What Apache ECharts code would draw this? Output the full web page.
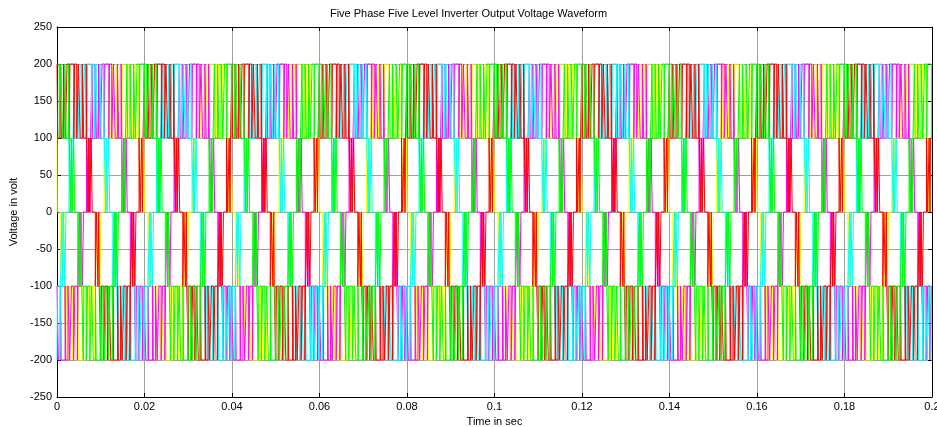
<!DOCTYPE html>
<html lang="en">
<head>
<meta charset="UTF-8">
<title>Five Phase Five Level Inverter Output Voltage Waveform</title>
<script src="https://cdn.jsdelivr.net/npm/echarts@6/dist/echarts.min.js"></script>
<style>
body{margin:0;padding:0;background:#fff}
#main{width:937px;height:427px}
</style>
</head>
<body>
<div id="main"></div>
<script>
// one 20 ms cycle of the reference phase, read off the first cycle of the plot
// [time in ms, level it switches to in V]
var cycleEdges = [
  [0.35,100],[0.6,0],[0.95,100],[1.15,0],[1.25,100],
  [1.6,200],[1.75,100],[2.3,200],[2.6,100],[3.1,200],[3.5,100],[3.9,200],[4.4,100],
  [4.55,200],[5.45,100],[5.6,200],[6.1,100],[6.5,200],[6.9,100],[7.4,200],[7.7,100],
  [8.25,200],[8.4,100],
  [8.75,0],[8.85,100],[9.05,0],[9.4,100],[9.65,0],
  [10.35,-100],[10.6,0],[10.95,-100],[11.15,0],[11.25,-100],
  [11.6,-200],[11.75,-100],[12.3,-200],[12.6,-100],[13.1,-200],[13.5,-100],[13.9,-200],[14.4,-100],
  [14.55,-200],[15.45,-100],[15.6,-200],[16.1,-100],[16.5,-200],[16.9,-100],[17.4,-200],[17.7,-100],
  [18.25,-200],[18.4,-100],
  [18.75,0],[18.85,-100],[19.05,0],[19.4,-100],[19.65,0]
];
var cycleMs = 20;
var cycleCount = 10;

// scope traces, in drawing order
var phaseNames  = ['Phase 1', 'Phase 2', 'Phase 3', 'Phase 4', 'Phase 5'];
var phaseColors = ['#ffff00', '#ff00ff', '#00ffff', '#ff0000', '#00ff00'];
var phaseShift  = [10.4, 6.4, 2.4, -1.6, 14.4];   // ms, from where each trace peaks

var xTicks = ['0','0.02','0.04','0.06','0.08','0.1','0.12','0.14','0.16','0.18','0.2'];
var yTicks = [-250,-200,-150,-100,-50,0,50,100,150,200,250];

function buildTrace(shift) {
  var edges = [];
  for (var k = -1; k <= cycleCount; k++) {
    cycleEdges.forEach(function (e) {
      edges.push([e[0] + shift + k * cycleMs, e[1]]);
    });
  }
  edges.sort(function (a, b) { return a[0] - b[0]; });
  var endMs = cycleMs * cycleCount;
  var level = 0;
  var pts = [];
  edges.forEach(function (e) {
    if (e[0] <= 0) level = e[1];
  });
  pts.push([0, level]);
  edges.forEach(function (e) {
    if (e[0] > 0 && e[0] < endMs) {
      pts.push([e[0] / 1000, level]);
      level = e[1];
      pts.push([e[0] / 1000, level]);
    }
  });
  pts.push([endMs / 1000, level]);
  return pts;
}

var series = [];
for (var i = 0; i < phaseNames.length; i++) {
  series.push({
    name: phaseNames[i],
    type: 'line',
    showSymbol: false,
    symbol: 'none',
    animation: false,
    lineStyle: { color: phaseColors[i], width: 1 },
    data: buildTrace(phaseShift[i])
  });
}

var font = 'Liberation Sans, Arial, sans-serif';
var gridLine = { show: true, lineStyle: { color: '#a0a0a0', width: 1 } };
var boxLine = { show: true, onZero: false, lineStyle: { color: '#000', width: 1 } };

var myChart = echarts.init(document.getElementById('main'), null, { renderer: 'canvas' });
var option = {
  animation: false,
  backgroundColor: '#fff',
  title: {
    text: 'Five Phase Five Level Inverter Output Voltage Waveform',
    left: 'center',
    top: 3,
    textStyle: { fontFamily: font, fontSize: 11, fontWeight: 'normal', color: '#000' }
  },
  grid: { left: 57, right: 5, top: 27, bottom: 30, outerBoundsMode: 'none', containLabel: false },
  xAxis: [{
    type: 'value',
    min: 0, max: 0.2, interval: 0.02,
    name: 'Time in sec',
    nameLocation: 'middle',
    nameGap: 18,
    nameTextStyle: { fontFamily: font, fontSize: 11, color: '#000' },
    axisLine: boxLine,
    axisTick: { show: true, inside: true, length: 4, lineStyle: { color: '#000' } },
    axisLabel: {
      fontFamily: font, fontSize: 11, color: '#000', margin: 4,
      formatter: function (v) { return xTicks[Math.round(v / 0.02)]; }
    },
    splitLine: gridLine
  }, {
    type: 'value', position: 'top',
    min: 0, max: 0.2, interval: 0.02,
    axisLine: boxLine,
    axisTick: { show: true, inside: true, length: 4, lineStyle: { color: '#000' } },
    axisLabel: { show: false },
    splitLine: { show: false }
  }],
  yAxis: [{
    type: 'value',
    min: -250, max: 250, interval: 50,
    name: 'Voltage in volt',
    nameLocation: 'middle',
    nameRotate: 90,
    nameGap: 31,
    nameTextStyle: { fontFamily: font, fontSize: 11, color: '#000' },
    axisLine: boxLine,
    axisTick: { show: true, inside: true, length: 4, lineStyle: { color: '#000' } },
    axisLabel: {
      fontFamily: font, fontSize: 11, color: '#000', margin: 5,
      formatter: function (v) { return String(yTicks[Math.round((v + 250) / 50)]); }
    },
    splitLine: gridLine
  }, {
    type: 'value', position: 'right',
    min: -250, max: 250, interval: 50,
    axisLine: boxLine,
    axisTick: { show: true, inside: true, length: 4, lineStyle: { color: '#000' } },
    axisLabel: { show: false },
    splitLine: { show: false }
  }],
  series: series
};
myChart.setOption(option);
</script>
</body>
</html>
